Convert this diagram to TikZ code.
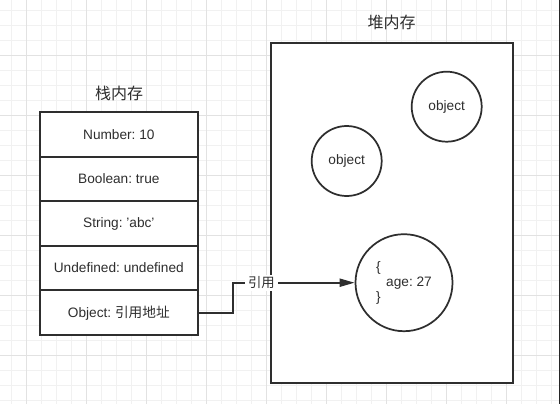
\documentclass[tikz,border=0pt]{standalone}
\usepackage{fontspec}
\setmainfont{Liberation Sans}
\newfontfamily\cjk{Noto Sans CJK SC}
\usetikzlibrary{arrows.meta}
\definecolor{ink}{HTML}{2E2E2E}
\definecolor{gridminor}{HTML}{F1F1F1}
\definecolor{gridmajor}{HTML}{E2E2E2}
\frenchspacing
\begin{document}
\begin{tikzpicture}[x=0.75pt,y=-0.75pt,
  txt/.style={text=ink,font=\fontsize{10.25}{11.25}\selectfont},
  title/.style={text=ink,font=\cjk\fontsize{12}{14}\selectfont},
  cell/.style={txt,draw=ink,line width=1.5pt,fill=white,minimum width=118.3pt,minimum height=33.45pt,inner sep=0pt},
  heapbox/.style={draw=ink,line width=1.5pt,fill=white,minimum width=181.7pt,minimum height=255pt,inner sep=0pt},
  obj/.style={txt,circle,draw=ink,line width=1.3pt,fill=white,inner sep=0pt},
  link/.style={draw=ink,line width=1.5pt},
  linklabel/.style={text=ink,font=\cjk\fontsize{10}{11}\selectfont,fill=white,inner xsep=2.2pt,inner ysep=1.5pt}
]
% background and bounding box
\fill[white] (0,0) rectangle (560,404);
\useasboundingbox (0,0) rectangle (560,404);
% grid
\foreach \x in {11.7,26.7,...,560} \draw[gridminor,line width=0.75pt] (\x,0) -- (\x,404);
\foreach \y in {10,25,...,404} \draw[gridminor,line width=0.75pt] (0,\y) -- (560,\y);
\foreach \x in {26.7,86.7,...,560} \draw[gridmajor,line width=0.75pt] (\x,0) -- (\x,404);
\foreach \y in {55,115,...,404} \draw[gridmajor,line width=0.75pt] (0,\y) -- (560,\y);
\draw[black!85,line width=0.75pt] (559.3,0) -- (559.3,404);

% titles
\node[title] (stacktitle) at (119,93) {栈内存};
\node[title] (heaptitle) at (391.7,22.7) {堆内存};

% stack
\node[cell] (c1) at (118.85,134.3) {Number: 10};
\node[cell] (c2) at (118.85,178.9) {Boolean: true};
\node[cell] (c3) at (118.85,223.5) {String: 'abc'};
\node[cell] (c4) at (118.85,268.1) {Undefined: undefined};
\node[cell] (c5) at (118.85,312.7) {Object: {\cjk 引用地址}};

% heap
\node[heapbox] (heap) at (392.2,212.7) {};
\node[obj,minimum size=52.5pt] (o1) at (446.7,106.7) {object};
\node[obj,minimum size=52.5pt] (o2) at (346.7,161) {object};
\node[obj,minimum size=72.75pt,align=left] (o3) at (404,282.7) {\{\\\hspace{7.5pt}age: 27\\\}};

% reference arrow
\coordinate (bend) at (233.3,282.7);
\draw[link,-{Triangle[length=11.25pt,width=6pt]}] (c5.east) -| (bend) -- node[linklabel,pos=0.232] (reflabel) {引用} (o3.west);
\end{tikzpicture}
\end{document}
